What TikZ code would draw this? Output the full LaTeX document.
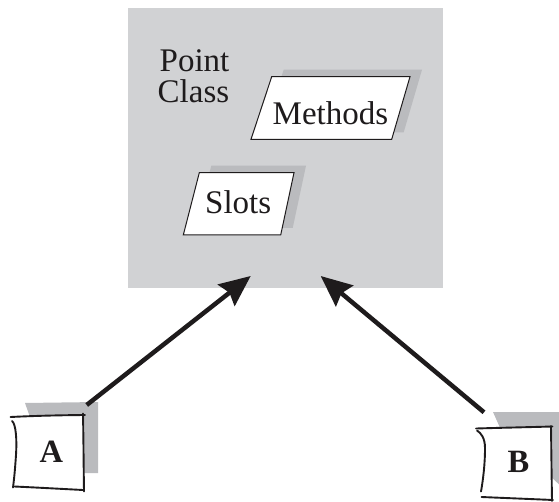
\documentclass[tikz,border=0pt]{standalone}
\usepackage{fontspec}
\setmainfont{Liberation Serif}
\usetikzlibrary{arrows.meta}
\definecolor{panel}{RGB}{209,210,212}
\definecolor{shade}{RGB}{186,187,190}
\definecolor{ink}{RGB}{30,27,28}
\tikzset{
  label33/.style={anchor=base west, inner sep=0pt, text=ink, font=\fontsize{33}{31}\selectfont},
  letter/.style={anchor=base west, inner sep=0pt, text=ink, font=\fontsize{32.5}{32}\selectfont\bfseries},
  slotbox/.style={fill=white, draw=ink, line width=1pt, line join=miter},
  dropshade/.style={fill=shade},
  sketchline/.style={draw=ink, line width=1.9pt, line cap=round},
  linkarrow/.style={draw=ink, line width=4.5pt, -{Stealth[length=31pt,width=27pt,inset=4pt]}}
}
\begin{document}
\begin{tikzpicture}[x=1pt,y=-1pt]
\useasboundingbox (0,0) rectangle (559,502);

% class panel
\fill[panel] (128,8) rectangle (443,288);
\node[label33] (pointlbl) at (159.5,71.5) {Point};
\node[label33] (classlbl) at (157.5,102.5) {Class};

% methods parallelogram with its shadow
\fill[dropshade] (283.7,69.7) -- (422,69.7) -- (403.7,132.3) -- (263,132.3) -- cycle;
\path[slotbox] (271.7,76.7) -- (410,76.7) -- (391.7,139.3) -- (251,139.3) -- cycle;
\node[label33] (methods) at (272.5,124.5) {Methods};

% slots parallelogram with its shadow
\fill[dropshade] (211.3,165.7) -- (306,165.7) -- (292.7,228) -- (195.3,228) -- cycle;
\path[slotbox] (199.3,172.7) -- (294,172.7) -- (280.7,235) -- (183.3,235) -- cycle;
\node[label33] (slots) at (205,213.5) {Slots};

% instance A
\fill[dropshade] (25,403) -- (98,402) -- (98,473) -- (80,473) -- (30,417) -- cycle;
\fill[white] (13,416) -- (84,415) -- (84,490) -- (14,488) -- cycle;
\draw[sketchline] (10.5,417) .. controls (35,415.8) and (60,415.2) .. (85,415);
\draw[sketchline] (83,413.5) .. controls (83.5,440) and (83.6,465) .. (84,491.5);
\draw[sketchline] (14.5,486.5) .. controls (38,487.6) and (60,488.8) .. (83,490);
\draw[sketchline] (12,421) .. controls (16,424) and (17,440) .. (16,455)
                  .. controls (15,470) and (14,480) .. (13,487.5);
\node[letter] (instA) at (39.5,462.5) {A};

% instance B
\fill[dropshade] (493,412) -- (565,412) -- (565,490) -- (501,430) -- cycle;
\fill[white] (478,428) -- (552,427) -- (552,500) -- (482,497) -- cycle;
\draw[sketchline] (476,428.5) .. controls (500,427.8) and (527,427.2) .. (552.5,426.5);
\draw[sketchline] (551,426) .. controls (551.3,450) and (551.6,475) .. (552,501);
\draw[sketchline] (481.5,497) .. controls (505,498) and (530,499) .. (553,500);
\draw[sketchline] (477,430.5) .. controls (481,433) and (485,438) .. (485,448)
                  .. controls (485,465) and (483,480) .. (481,491.5);
\node[letter] (instB) at (507.5,472.5) {B};

% instance-of links
\coordinate (startA) at (86.7,405);
\coordinate (tipA) at (250.7,276);
\coordinate (startB) at (484,412.3);
\coordinate (tipB) at (320.7,276);
\draw[linkarrow] (startA) -- (tipA);
\draw[linkarrow] (startB) -- (tipB);
\end{tikzpicture}
\end{document}
